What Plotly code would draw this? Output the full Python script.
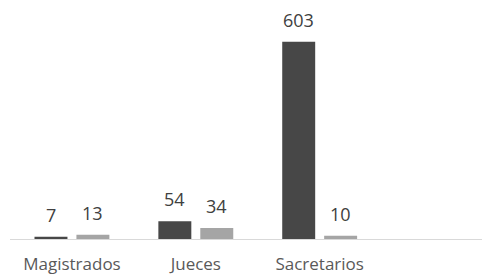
import plotly.graph_objects as go

categories = ["Magistrados", "Jueces", "Sacretarios"]
serie_1 = [7, 54, 603]
serie_2 = [13, 34, 10]

DARK = "#474747"
LIGHT = "#a5a5a5"
FONT = "Open Sans"

fig = go.Figure()
fig.add_trace(go.Bar(x=categories, y=serie_1, marker=dict(color=DARK, line=dict(width=0)),
                     hoverinfo="x+y"))
fig.add_trace(go.Bar(x=categories, y=serie_2, marker=dict(color=LIGHT, line=dict(width=0)),
                     hoverinfo="x+y"))

# data labels, placed above each bar
for vals, shift in ((serie_1, -21), (serie_2, 21)):
    for c, v in zip(categories, vals):
        fig.add_annotation(x=c, y=v, xref="x", yref="y", text=str(v), showarrow=False,
                           xanchor="center", yanchor="bottom", xshift=shift, yshift=8,
                           font=dict(family=FONT, size=18, color="#404040"))

fig.update_layout(
    width=482, height=268,
    margin=dict(l=1.5, r=1, t=2, b=37, autoexpand=False),
    paper_bgcolor="white", plot_bgcolor="white",
    barmode="group", bargap=0.323, bargroupgap=0.214,
    showlegend=False,
    font=dict(family=FONT, color="#595959"),
    xaxis=dict(range=[-0.5, 3.367], showline=True, linecolor="#d9d9d9", linewidth=1,
               showgrid=False, ticks="outside", ticklen=10, tickcolor="rgba(0,0,0,0)",
               tickfont=dict(size=17, color="#595959", family=FONT)),
    yaxis=dict(range=[0, 700], visible=False),
)
fig.write_html("out.html")
